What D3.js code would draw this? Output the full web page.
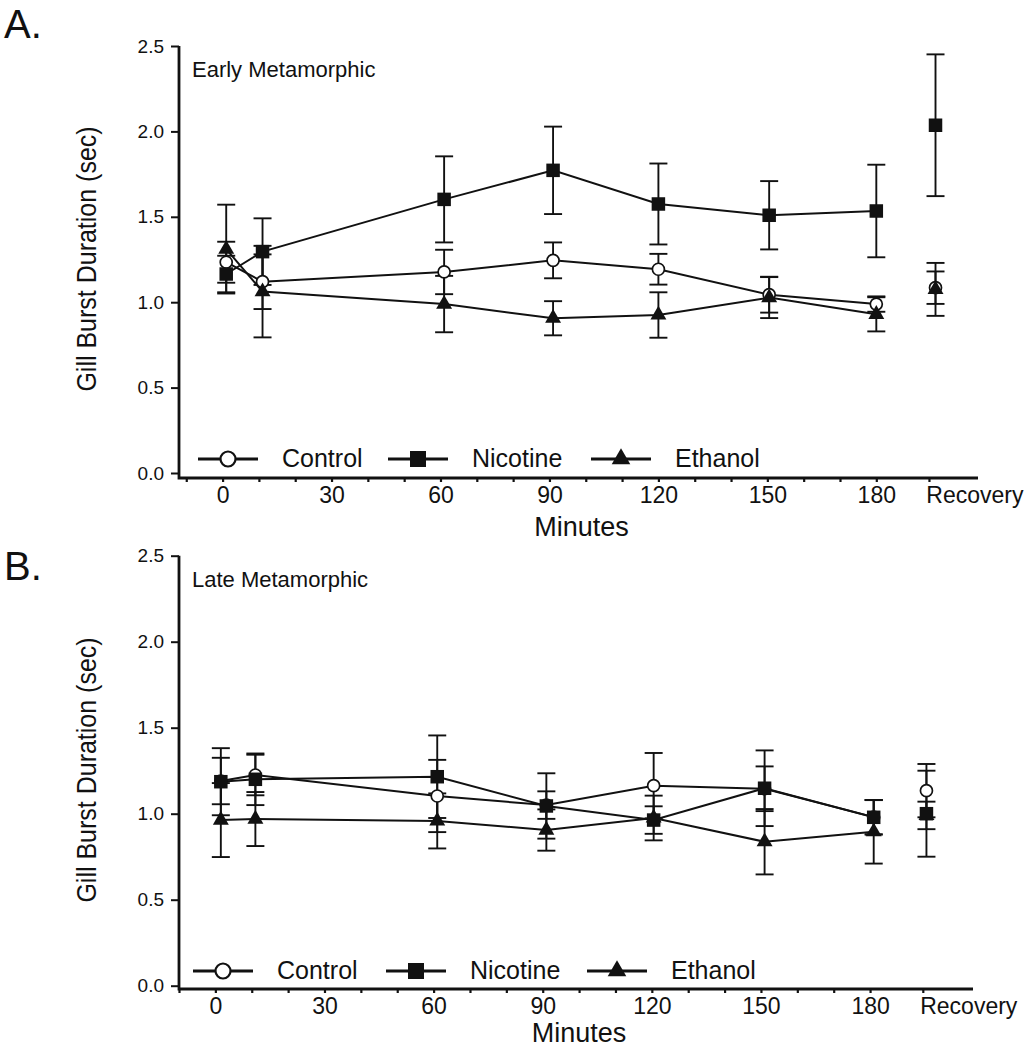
<!DOCTYPE html>
<html><head><meta charset="utf-8">
<script src="https://cdn.jsdelivr.net/npm/d3@7"></script>
<style>
body{margin:0;background:#fff}
svg text{font-family:"Liberation Sans",Arial,Helvetica,sans-serif;fill:#111}
</style>
</head><body>
<svg id="c" width="1028" height="1050"></svg>
<script>
// ---------- data ----------
const seriesNames = ["Control", "Nicotine", "Ethanol"];
const minuteTicks = [0, 30, 60, 90, 120, 150, 180];
const minorTicks = [-10, 0, 10, 20, 30, 40, 50, 60, 70, 80, 90, 100, 110, 120, 130, 140, 150, 160, 170, 180];
const recoveryLabel = "Recovery";
const yTicks = [0, 0.5, 1.0, 1.5, 2.0, 2.5];

// Panel A: Early Metamorphic (minutes of sampling, last value = recovery)
const timesA = [1, 11, 61, 91, 120, 150.5, 180];
const recoveryTimeA = 196.3;
const controlA = [1.234, 1.12, 1.177, 1.245, 1.193, 1.044, 0.989];
const controlErrA = [0.12, 0.16, 0.13, 0.105, 0.09, 0.105, 0.045];
const controlRecA = [1.085, 0.095];
const nicotineA = [1.165, 1.296, 1.602, 1.772, 1.575, 1.509, 1.534];
const nicotineErrA = [0.107, 0.195, 0.252, 0.256, 0.237, 0.2, 0.271];
const nicotineRecA = [2.036, 0.415];
const ethanolA = [1.311, 1.062, 0.989, 0.906, 0.925, 1.027, 0.929];
const ethanolErrA = [0.26, 0.268, 0.165, 0.1, 0.133, 0.12, 0.1];
const ethanolRecA = [1.075, 0.155];

// Panel B: Late Metamorphic
const timesB = [1.5, 11, 61, 91, 120.5, 151, 181];
const recoveryTimeB = 195.5;
const controlB = [1.19, 1.225, 1.103, 1.05, 1.163, 1.145, 0.98];
const controlErrB = [0.135, 0.118, 0.21, 0.08, 0.19, 0.13, 0.1];
const controlRecB = [1.134, 0.155];
const nicotineB = [1.186, 1.2, 1.215, 1.045, 0.963, 1.148, 0.979];
const nicotineErrB = [0.195, 0.15, 0.24, 0.19, 0.08, 0.22, 0.1];
const nicotineRecB = [1.0, 0.25];
const ethanolB = [0.963, 0.969, 0.958, 0.905, 0.975, 0.837, 0.895];
const ethanolErrB = [0.215, 0.157, 0.16, 0.12, 0.13, 0.19, 0.185];
const ethanolRecB = [0.99, 0.08];

// ---------- drawing ----------
const svg = d3.select("#c");
const INK = "#111";

function makeSeries(times, vals, errs, rec, recT) {
  const pts = times.map((t, i) => ({t, v: vals[i], e: errs[i]}));
  return {line: pts, all: pts.concat([{t: recT, v: rec[0], e: rec[1]}])};
}

function symbolFor(name, g, cx, cy, big) {
  if (name === "Control") {
    g.append("circle").attr("cx", cx).attr("cy", cy).attr("r", big ? 7.5 : 6)
      .attr("fill", "#fff").attr("stroke", INK).attr("stroke-width", big ? 2.2 : 1.7);
  } else if (name === "Nicotine") {
    const s = big ? 16 : 13.5;
    g.append("rect").attr("x", cx - s / 2).attr("y", cy - s / 2).attr("width", s).attr("height", s).attr("fill", INK);
  } else {
    g.append("path").attr("transform", `translate(${cx},${cy})`)
      .attr("d", d3.symbol(d3.symbolTriangle, big ? 150 : 110)()).attr("fill", INK);
  }
}

function drawPanel(cfg) {
  const g = svg.append("g");
  const x = d3.scaleLinear().domain(cfg.xDomain).range(cfg.xRange);
  const y = d3.scaleLinear().domain([0, 2.5]).range(cfg.yRange);
  const x0 = cfg.xRange[0];

  // y axis ticks + labels
  const ya = g.append("g").attr("transform", `translate(${x0},0)`)
    .call(d3.axisLeft(y).tickValues(yTicks).tickSize(8).tickPadding(7).tickFormat(d3.format(".1f")));
  ya.select(".domain").remove();
  ya.selectAll("line").attr("stroke", INK).attr("stroke-width", 2);
  ya.selectAll("text").attr("font-size", 19).attr("fill", INK)
    .style("font-family", '"Liberation Sans",Arial,sans-serif');

  // x axis minor ticks
  const xa = g.append("g").attr("transform", `translate(0,${cfg.axisY})`)
    .call(d3.axisBottom(x).tickValues(minorTicks.concat([cfg.recTick])).tickSize(4).tickFormat(""));
  xa.select(".domain").remove();
  xa.selectAll("line").attr("stroke", INK).attr("stroke-width", 2.2);

  // x labels
  const xl = g.append("g").attr("transform", `translate(0,${cfg.axisY})`)
    .call(d3.axisBottom(x).tickValues(minuteTicks.concat([cfg.recLabel])).tickSize(0).tickPadding(9)
      .tickFormat(d => d === cfg.recLabel ? recoveryLabel : String(d)));
  xl.select(".domain").remove();
  xl.selectAll("text").attr("font-size", 23).attr("fill", INK)
    .style("font-family", '"Liberation Sans",Arial,sans-serif');

  // axis lines
  g.append("path").attr("d", `M${x0},${y(2.5)}V${cfg.axisY}H${cfg.xRange[1]}`)
    .attr("fill", "none").attr("stroke", INK).attr("stroke-width", 2.8);

  // titles
  g.append("text").attr("x", cfg.titleX).attr("y", cfg.titleY).attr("font-size", 22).text(cfg.title);
  g.append("text").attr("x", 4).attr("y", cfg.letterY).attr("font-size", 40).text(cfg.letter);
  g.append("text").attr("x", (cfg.xRange[0] + cfg.xRange[1]) / 2 + 3).attr("y", cfg.minutesY)
    .attr("text-anchor", "middle").attr("font-size", 27).text("Minutes");
  g.append("text").attr("transform", `translate(96,${cfg.yLabelY}) rotate(-90) scale(1,1.1)`)
    .attr("text-anchor", "middle").attr("font-size", 25).text("Gill Burst Duration (sec)");

  // series
  const line = d3.line().x(d => x(d.t)).y(d => y(d.v));
  cfg.series.forEach(s => {
    g.append("path").attr("d", line(s.data.line)).attr("fill", "none")
      .attr("stroke", INK).attr("stroke-width", 2);
  });
  cfg.series.forEach(s => {
    s.data.all.forEach(d => {
      const cx = x(d.t);
      g.append("line").attr("x1", cx).attr("x2", cx).attr("y1", y(d.v - d.e)).attr("y2", y(d.v + d.e))
        .attr("stroke", INK).attr("stroke-width", 1.9);
      [d.v - d.e, d.v + d.e].forEach(vv => {
        g.append("line").attr("x1", cx - 9).attr("x2", cx + 9).attr("y1", y(vv)).attr("y2", y(vv))
          .attr("stroke", INK).attr("stroke-width", 1.9);
      });
    });
  });
  ["Control", "Ethanol", "Nicotine"].forEach(n => {
    const s = cfg.series.find(q => q.name === n);
    s.data.all.forEach(d => symbolFor(n, g, x(d.t), y(d.v), false));
  });

  // legend
  seriesNames.forEach((n, i) => {
    const lx = cfg.legendX[i], ly = cfg.legendY;
    g.append("line").attr("x1", lx).attr("x2", lx + 60).attr("y1", ly).attr("y2", ly)
      .attr("stroke", INK).attr("stroke-width", 3);
    symbolFor(n, g, lx + 30, ly, true);
    g.append("text").attr("x", lx + 84).attr("y", ly + 8).attr("font-size", 25).text(n);
  });
}

drawPanel({
  letter: "A.", letterY: 38, title: "Early Metamorphic", titleX: 192, titleY: 77,
  xDomain: [-12, 208], xRange: [179, 978], yRange: [473, 46], axisY: 478,
  recTick: 194.5, recLabel: 207, minutesY: 536, yLabelY: 259,
  legendX: [198, 388, 591], legendY: 459,
  series: [
    {name: "Control", data: makeSeries(timesA, controlA, controlErrA, controlRecA, recoveryTimeA)},
    {name: "Nicotine", data: makeSeries(timesA, nicotineA, nicotineErrA, nicotineRecA, recoveryTimeA)},
    {name: "Ethanol", data: makeSeries(timesA, ethanolA, ethanolErrA, ethanolRecA, recoveryTimeA)}
  ]
});

drawPanel({
  letter: "B.", letterY: 580, title: "Late Metamorphic", titleX: 192, titleY: 587,
  xDomain: [-10, 208.3], xRange: [179, 973], yRange: [985.7, 555.7], axisY: 989,
  recTick: 194.5, recLabel: 207, minutesY: 1042, yLabelY: 770,
  legendX: [193, 386, 587], legendY: 971,
  series: [
    {name: "Control", data: makeSeries(timesB, controlB, controlErrB, controlRecB, recoveryTimeB)},
    {name: "Nicotine", data: makeSeries(timesB, nicotineB, nicotineErrB, nicotineRecB, recoveryTimeB)},
    {name: "Ethanol", data: makeSeries(timesB, ethanolB, ethanolErrB, ethanolRecB, recoveryTimeB)}
  ]
});
</script>
</body></html>
